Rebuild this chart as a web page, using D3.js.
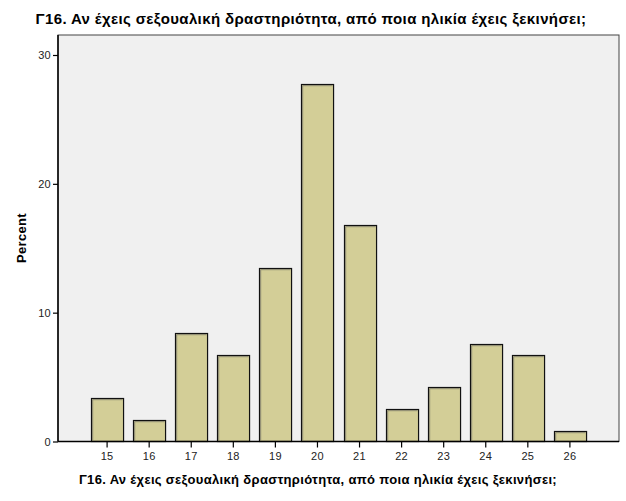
<!DOCTYPE html>
<html>
<head>
<meta charset="UTF-8">
<title>Γ16 histogram</title>
<script src="https://d3js.org/d3.v7.min.js"></script>
<style>
    body { margin: 0; background: #fff; }
    svg { display: block; font-family: "Liberation Sans", Arial, sans-serif; }
</style>
</head>
<body>
<svg id="chart" width="626" height="501"></svg>
<script>
    const ages = ["15", "16", "17", "18", "19", "20", "21", "22", "23", "24", "25", "26"];
    const percents = [3.36, 1.68, 8.40, 6.72, 13.45, 27.73, 16.81, 2.52, 4.20, 7.56, 6.72, 0.84];
    const yTicks = [0, 10, 20, 30];
    const titleText = "Γ16. Αν έχεις σεξουαλική δραστηριότητα, από ποια ηλικία έχεις ξεκινήσει;";
    const yLabel = "Percent";

    const svg = d3.select("#chart");
    const plotLeft = 58, plotRight = 619, plotTop = 35, plotBottom = 441.5;

    const x = d3.scaleBand()
        .domain(ages)
        .range([plotLeft, plotRight])
        .paddingInner(0.238)
        .paddingOuter(0.786);

    const y = d3.scaleLinear()
        .domain([0, 30])
        .range([plotBottom, 55]);

    // plot background
    svg.append("rect")
        .attr("x", plotLeft).attr("y", plotTop)
        .attr("width", plotRight - plotLeft).attr("height", plotBottom - plotTop)
        .attr("fill", "#f0f0f0")
        .attr("stroke", "#444")
        .attr("stroke-width", 1);

    // bars, with the gray inner shadow on top/left like SPSS draws it
    const bars = svg.append("g");
    bars.selectAll("rect")
        .data(percents)
        .join("rect")
        .attr("x", (d, i) => Math.round(x(ages[i])) + 0.5)
        .attr("y", d => Math.round(y(d)) + 0.5)
        .attr("width", x.bandwidth())
        .attr("height", d => plotBottom - Math.round(y(d)) - 0.5)
        .attr("fill", "#d3ce97")
        .attr("stroke", "#111")
        .attr("stroke-width", 1.2);
    bars.selectAll("path")
        .data(percents)
        .join("path")
        .attr("d", (d, i) => {
            const x0 = Math.round(x(ages[i])) + 0.5;
            const y0 = Math.round(y(d)) + 0.5;
            return `M${x0 + 1.2},${plotBottom - 1} V${y0 + 1.2} H${x0 + x.bandwidth() - 1}`;
        })
        .attr("fill", "none")
        .attr("stroke", "#8a8870")
        .attr("stroke-width", 1);

    // axes
    const yAxis = svg.append("g")
        .attr("transform", `translate(${plotLeft},0)`)
        .call(d3.axisLeft(y).tickValues(yTicks).tickSize(5).tickPadding(2));
    const xAxis = svg.append("g")
        .attr("transform", `translate(0,${plotBottom})`)
        .call(d3.axisBottom(x).tickSize(6).tickPadding(5));

    [yAxis, xAxis].forEach(g => {
        g.select(".domain").attr("stroke", "#000").attr("stroke-width", 1.5);
        g.selectAll(".tick line").attr("stroke", "#000").attr("stroke-width", 1.2);
        g.selectAll(".tick text")
            .attr("fill", "#222")
            .style("font-family", "'Liberation Sans', Arial, sans-serif")
            .style("font-size", "11px")
            .style("letter-spacing", "0.3px");
    });
    xAxis.select(".domain").attr("d", `M${plotLeft},0H${plotRight}`);
    yAxis.select(".domain").attr("d", `M0,${plotTop}V${plotBottom}`);

    // titles
    svg.append("text")
        .attr("x", 311).attr("y", 24)
        .attr("text-anchor", "middle")
        .style("font-weight", "bold")
        .style("font-size", "15px")
        .style("letter-spacing", "0.37px")
        .text(titleText);

    svg.append("text")
        .attr("x", 318).attr("y", 484)
        .attr("text-anchor", "middle")
        .style("font-weight", "bold")
        .style("font-size", "13px")
        .style("letter-spacing", "0.33px")
        .text(titleText);

    svg.append("text")
        .attr("transform", "translate(26,238) rotate(-90)")
        .attr("text-anchor", "middle")
        .style("font-weight", "bold")
        .style("font-size", "13px")
        .style("letter-spacing", "0.3px")
        .text(yLabel);
</script>
</body>
</html>
